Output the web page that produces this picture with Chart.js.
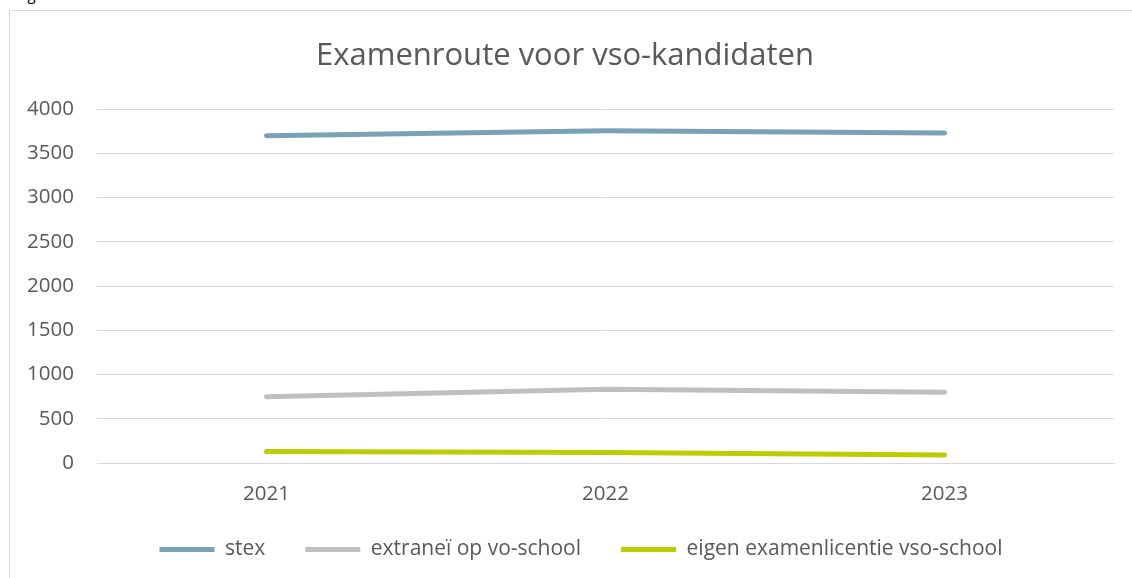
<!DOCTYPE html>
<html>
<head>
<meta charset="utf-8">
<script src="https://cdn.jsdelivr.net/npm/chart.js@4.4.0/dist/chart.umd.min.js"></script>
<style>
  html, body { margin: 0; padding: 0; background: #fff; overflow: hidden; }
  #caption { position: absolute; left: 16px; top: -16px; font: 15px "Open Sans", sans-serif; line-height: 20px; color: #000; white-space: nowrap; }
  #frame { position: absolute; left: 9px; top: 10px; width: 1140px; height: 600px; border: 1px solid #d9d9d9; box-sizing: border-box; }
  #wrap { position: absolute; left: 0; top: 0; width: 1132px; height: 578px; }
</style>
</head>
<body>
<div id="caption">Figuur 5: Examenroute voor vso-kandidaten</div>
<div id="frame"></div>
<div id="wrap"><canvas id="chart-route"></canvas></div>
<script>
const years = ["2021", "2022", "2023"];
const stex = [3700, 3755, 3730];
const extraneiVo = [750, 835, 800];
const eigenLicentie = [130, 120, 90];
const yTicks = [0, 500, 1000, 1500, 2000, 2500, 3000, 3500, 4000];

// legend in Excel sits a bit right of the title centre, and closer to the axis labels
const legendShift = {
  id: "legendShift",
  afterLayout(chart) {
    chart.legend.left += 16;
    chart.legend.right += 16;
    chart.legend.top -= 9;
    chart.legend.bottom -= 9;
  },
};

let ctx_route = document.getElementById("chart-route").getContext("2d");
let chart_route = new Chart(ctx_route, {
  type: "line",
  data: {
    labels: years,
    datasets: [
      { label: "stex", data: stex, borderColor: "#7aa2b5", backgroundColor: "#7aa2b5" },
      { label: "extraneï op vo-school", data: extraneiVo, borderColor: "#bfbfbf", backgroundColor: "#bfbfbf" },
      { label: "eigen examenlicentie vso-school", data: eigenLicentie, borderColor: "#bdcc00", backgroundColor: "#bdcc00" },
    ],
  },
  plugins: [legendShift],
  options: {
    responsive: true,
    maintainAspectRatio: false,
    animation: false,
    elements: {
      line: { borderWidth: 5, borderCapStyle: "round", borderJoinStyle: "round", tension: 0 },
      point: { radius: 0, hoverRadius: 0 },
    },
    layout: { padding: { left: 16, right: 18, top: 0, bottom: 0 } },
    plugins: {
      title: {
        display: true,
        text: "Examenroute voor vso-kandidaten",
        color: "#595959",
        font: { family: "Open Sans", size: 31, weight: "normal" },
        padding: { top: 38, bottom: 34 },
      },
      legend: {
        position: "bottom",
        maxHeight: 70,
        labels: {
          color: "#595959",
          font: { family: "Open Sans", size: 21 },
          boxWidth: 55,
          boxHeight: 5,
          padding: 40,
          generateLabels: function (chart) {
            return chart.data.datasets.map(function (ds, i) {
              return {
                text: ds.label,
                fillStyle: ds.borderColor,
                strokeStyle: ds.borderColor,
                lineWidth: 0,
                fontColor: "#595959",
                datasetIndex: i,
              };
            });
          },
        },
      },
      tooltip: { enabled: false },
    },
    scales: {
      x: {
        grid: { display: false, drawTicks: false },
        border: { display: true, color: "#d9d9d9", width: 1 },
        offset: true,
        afterFit: function (axis) { axis.height = 45; },
        ticks: { color: "#595959", font: { family: "Open Sans", size: 20.5 }, padding: 19 },
      },
      y: {
        min: 0,
        max: 4000,
        afterBuildTicks: function (axis) {
          axis.ticks = yTicks.map(function (v) { return { value: v }; });
        },
        afterFit: function (axis) { axis.width = 81; },
        grid: { color: "#d9d9d9", lineWidth: 1, drawTicks: false },
        border: { display: false },
        ticks: {
          color: "#595959",
          font: { family: "Open Sans", size: 20.5 },
          padding: 23,
          callback: function (value) { return String(value); },
        },
      },
    },
  },
});
</script>
</body>
</html>
